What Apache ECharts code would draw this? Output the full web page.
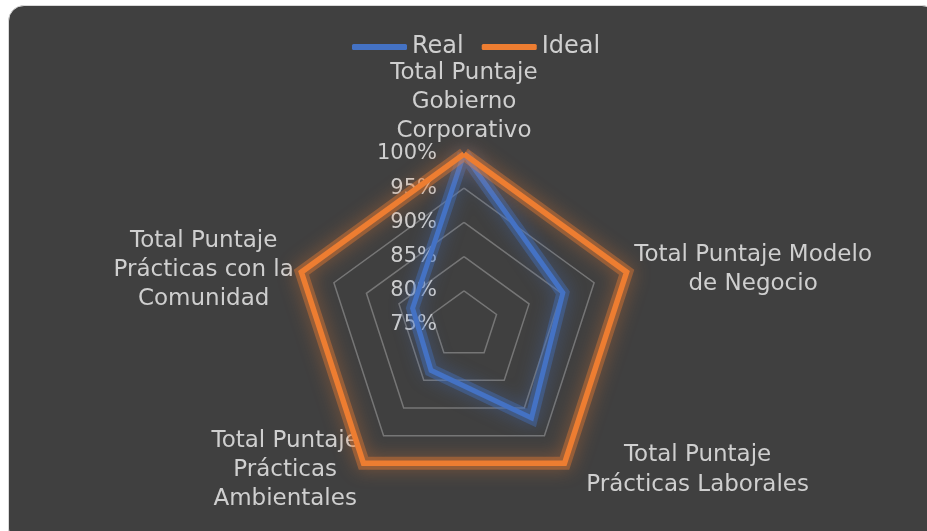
<!DOCTYPE html>
<html>
<head>
<meta charset="utf-8">
<script src="https://cdn.jsdelivr.net/npm/echarts@6/dist/echarts.min.js"></script>
<style>
html,body{margin:0;padding:0;background:#ffffff;width:927px;height:531px;overflow:hidden;}
#box{position:absolute;left:8px;top:5px;width:930px;height:540px;background:#404040;border:1px solid #d9d9d9;border-radius:16px;box-sizing:border-box;}
#chart{position:absolute;left:0;top:0;width:927px;height:531px;}
</style>
</head>
<body>
<div id="box"></div>
<div id="chart"></div>
<script>
// categories in clockwise order starting from the top
const indicators = [
  'Total Puntaje\nGobierno\nCorporativo',
  'Total Puntaje Modelo\nde Negocio',
  'Total Puntaje\nPrácticas Laborales',
  'Total Puntaje\nPrácticas\nAmbientales',
  'Total Puntaje\nPrácticas con la\nComunidad'
];
const seriesNames = ['Real', 'Ideal'];
const realValues = [100, 90.2, 91.8, 83.2, 82.9];
const idealValues = [100, 100, 100, 100, 100];
const axisMin = 75, axisMax = 100;

// ECharts radar runs counter-clockwise; reorder so the chart runs clockwise
const order = [0, 4, 3, 2, 1];
const cw = arr => order.map(i => arr[i]);

const textColor = '#cfcfcf';
const font = 'DejaVu Sans';
const nameSize = 23;
const blue = '#4472C4', orange = '#ED7D31';

function glowSeries(name, values, rgb, z) {
  return {
    name: name + ' glow',
    type: 'radar',
    symbol: 'none',
    silent: true,
    z: z,
    lineStyle: {color: 'rgba(' + rgb + ',0.4)', width: 13, shadowBlur: 18, shadowColor: 'rgba(' + rgb + ',0.9)', join: 'miter'},
    data: [{name: name + ' glow', value: cw(values)}]
  };
}

const chart = echarts.init(document.getElementById('chart'), null, {renderer: 'canvas'});
chart.setOption({
  backgroundColor: 'transparent',
  textStyle: {fontFamily: font},
  legend: {
    data: seriesNames,
    top: 30,
    left: 347,
    icon: 'roundRect',
    itemWidth: 55,
    itemHeight: 6,
    itemGap: 18,
    textStyle: {color: textColor, fontSize: 24, fontFamily: font}
  },
  radar: {
    center: [464, 325],
    radius: 171,
    shape: 'polygon',
    startAngle: 90,
    splitNumber: 5,
    axisName: {
      color: textColor,
      fontSize: nameSize,
      fontFamily: font,
      formatter: function (name) {
        const key = name.indexOf('Laborales') >= 0 ? 'p' : 'c';
        return name.split('\n').map(l => '{' + key + '|' + l + '}').join('\n');
      },
      rich: {
        c: {align: 'center', color: textColor, fontSize: nameSize, fontFamily: font, lineHeight: 29},
        p: {align: 'center', color: textColor, fontSize: nameSize, fontFamily: font, lineHeight: 30, padding: [0, 0, 0, 17]}
      }
    },
    nameGap: 8,
    axisLine: {show: false},
    axisTick: {show: false},
    axisLabel: {show: false},
    splitArea: {show: false},
    splitLine: {lineStyle: {color: '#767676', width: 1.5}},
    indicator: cw(indicators).map((n, i) => {
      const o = {name: n, min: axisMin, max: axisMax};
      if (i === 0) {
        o.axisLabel = {
          show: true, color: textColor, fontSize: 21, fontFamily: font, margin: 27,
          formatter: v => v + '%'
        };
      }
      return o;
    })
  },
  series: [
    glowSeries('Real', realValues, '68,114,196', 1),
    {
      name: 'Real',
      type: 'radar',
      symbol: 'none',
      z: 2,
      lineStyle: {color: blue, width: 5, join: 'miter'},
      itemStyle: {color: blue},
      data: [{name: 'Real', value: cw(realValues)}]
    },
    glowSeries('Ideal', idealValues, '237,125,49', 3),
    {
      name: 'Ideal',
      type: 'radar',
      symbol: 'none',
      z: 4,
      lineStyle: {color: orange, width: 5.5, join: 'miter'},
      itemStyle: {color: orange},
      data: [{name: 'Ideal', value: cw(idealValues)}]
    }
  ]
});
</script>
</body>
</html>
